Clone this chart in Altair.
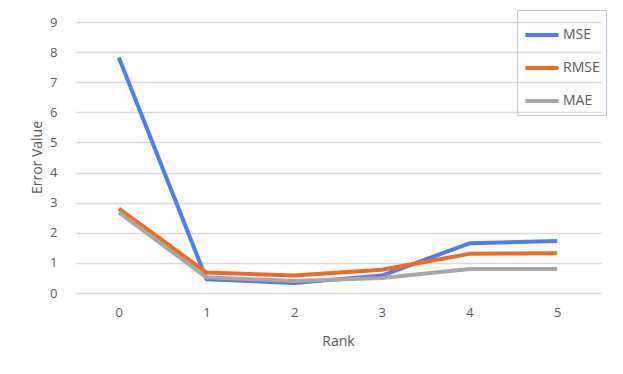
import altair as alt
import pandas as pd

ranks = [0, 1, 2, 3, 4, 5]
mse = [7.82, 0.46, 0.33, 0.58, 1.65, 1.73]
rmse = [2.80, 0.68, 0.58, 0.77, 1.30, 1.32]
mae = [2.68, 0.52, 0.40, 0.50, 0.80, 0.80]
series = ["MSE", "RMSE", "MAE"]
colors = ["#4a7ef2", "#f2691f", "#a6a8a6"]

rows = []
for name, vals in zip(series, [mse, rmse, mae]):
    for r, v in zip(ranks, vals):
        rows.append({"Rank": str(r), "Error Value": v, "Metric": name})
df = pd.DataFrame(rows)

font = "Open Sans"
txt = "#595959"

chart = alt.Chart(df).mark_line(strokeWidth=4, strokeCap="butt", strokeJoin="round").encode(
    x=alt.X("Rank:N", sort=[str(r) for r in ranks],
            scale=alt.Scale(type="point", padding=0.5),
            axis=alt.Axis(title="Rank", labelAngle=0, domain=False, ticks=False,
                          labelPadding=13, titlePadding=15, grid=False)),
    y=alt.Y("Error Value:Q", scale=alt.Scale(domain=[0, 9], nice=False),
            axis=alt.Axis(title="Error Value", values=list(range(10)), domain=False,
                          ticks=False, labelPadding=18, titleX=-38, titleY=135,
                          titleAngle=-90, titleAlign="center", titleBaseline="middle")),
    color=alt.Color("Metric:N", sort=series,
                    scale=alt.Scale(domain=series, range=colors),
                    legend=alt.Legend(title=None, orient="none", legendX=442, legendY=-12,
                                      symbolType="stroke", symbolSize=1100,
                                      symbolStrokeWidth=4, labelOffset=2,
                                      padding=6, rowPadding=6,
                                      strokeColor="#b8c8dc")),
    order=alt.Order("Metric:N"),
).properties(
    width=526, height=271,
    autosize=alt.AutoSizeParams(type="none"),
    padding={"left": 67, "top": 14, "right": 14, "bottom": 70},
).configure_view(stroke=None).configure_axis(
    labelFont=font, titleFont=font, labelColor=txt, titleColor=txt,
    labelFontSize=13, titleFontSize=14, titleFontWeight="normal",
    gridColor="#dadada", gridWidth=1.5,
).configure_legend(
    labelFont=font, labelFontSize=14, labelColor=txt,
)

chart.save("out.html", embed_options={"renderer": "svg", "actions": False})
